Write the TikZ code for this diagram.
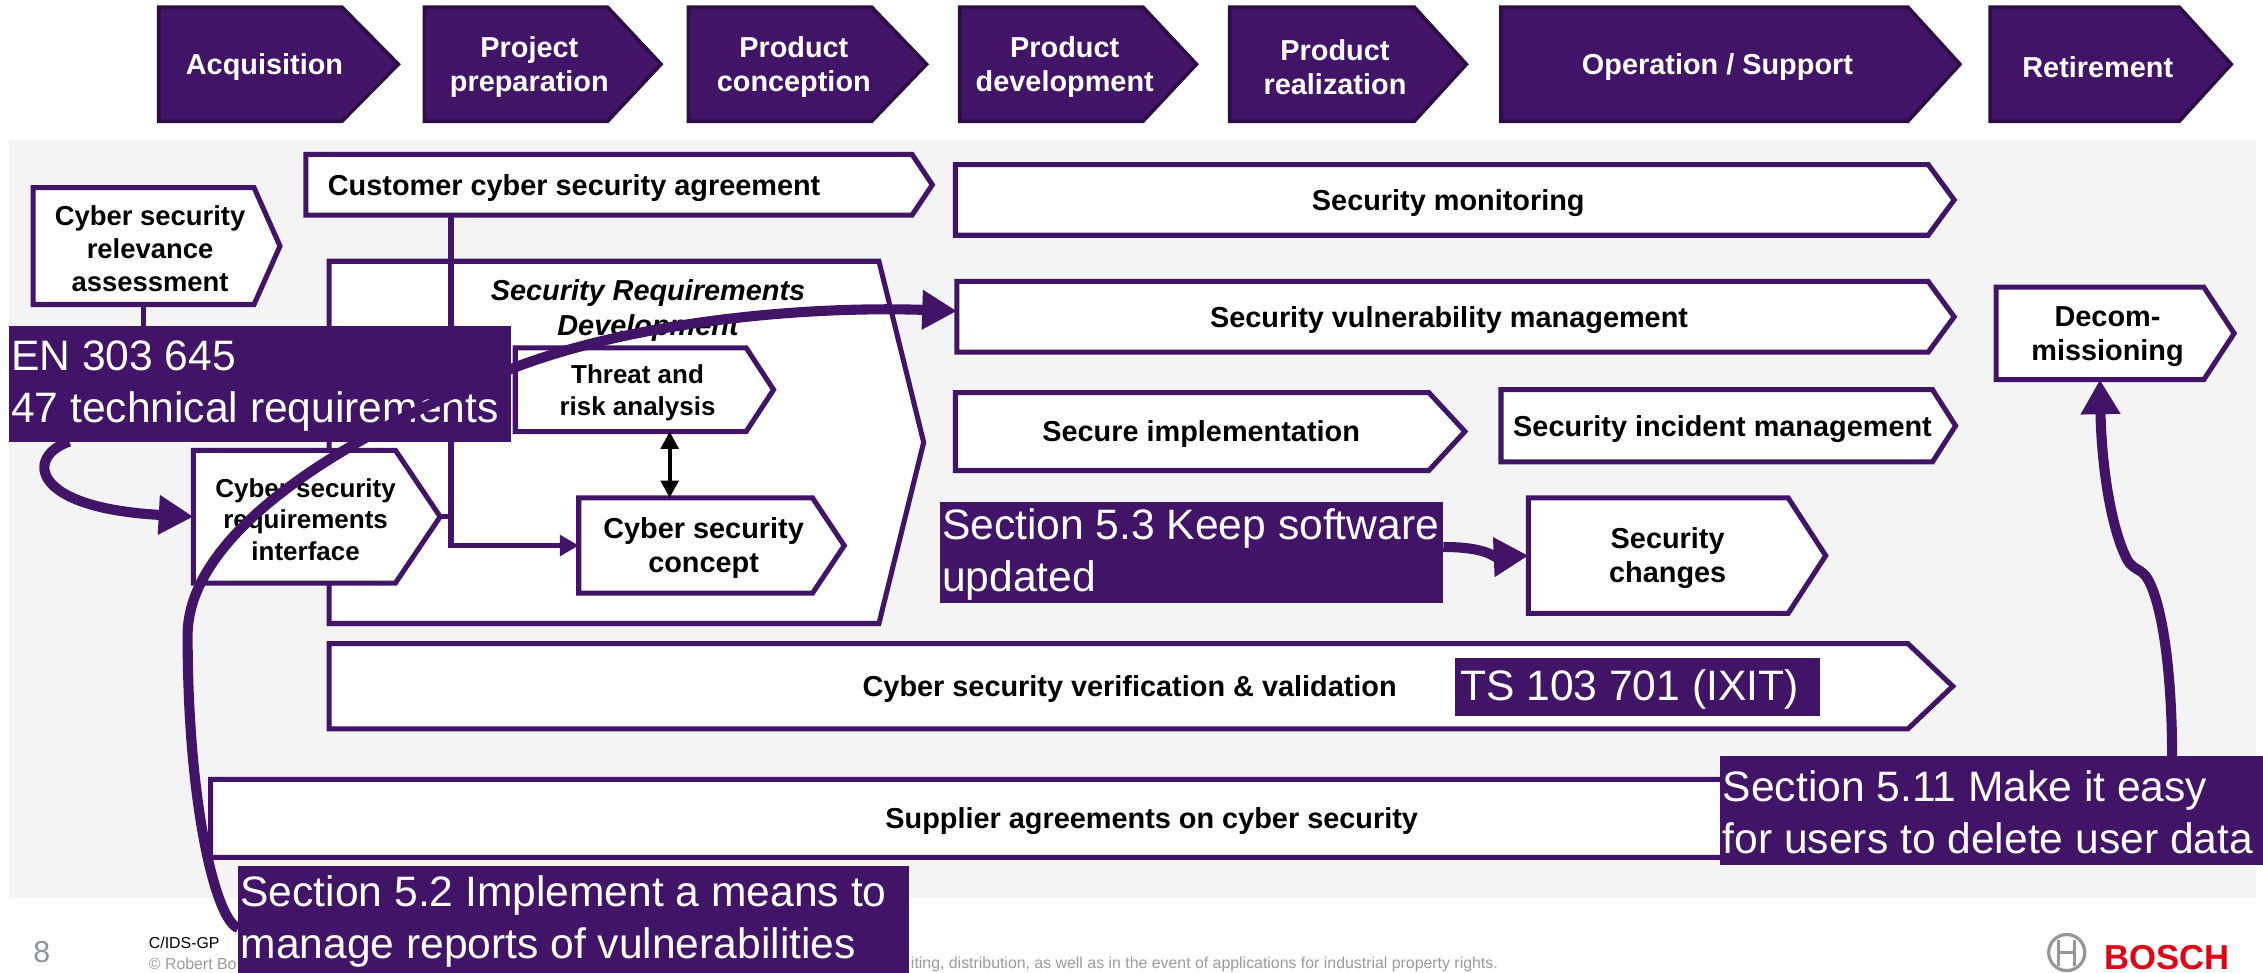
\documentclass[tikz,border=0pt]{standalone}
\usepackage{fontspec}
\setmainfont{Liberation Sans}
\usetikzlibrary{arrows.meta,calc}
\definecolor{purp}{RGB}{66,20,104}
\definecolor{phaseline}{RGB}{44,13,70}
\definecolor{panel}{RGB}{244,244,244}
\definecolor{boschred}{RGB}{226,0,21}
\definecolor{footgray}{RGB}{155,155,155}
\definecolor{pagenum}{RGB}{140,148,156}
\definecolor{logogray}{RGB}{150,150,150}

% #1 text options, #2 name, #3 left, #4 top, #5 body right, #6 tip x, #7 bottom, #8 shape style, #9 text
\newcommand\chev[9][]{%
  \path[#8] (#3,#4) -- (#5,#4) -- (#6,{(#4+#7)/2}) -- (#5,#7) -- (#3,#7) -- cycle;
  \node[inner sep=0pt, outer sep=0pt, minimum width={(#5-#3)*1pt}, minimum height={(#7-#4)*1pt}] (#2) at ({(#3+#5)/2},{(#4+#7)/2}) {};
  \node[align=center, inner sep=0pt, yshift=-2pt, #1] (#2-t) at ([xshift={(#6-#5)/4*1pt}]#2.center) {#9};
}
% #1 name, #2 left, #3 top, #4 right, #5 bottom, #6 text
\newcommand\callout[6]{%
  \node[calloutbox, anchor=north west, minimum width={(#4-#2)*1pt}, minimum height={(#5-#3)*1pt}] (#1) at (#2,#3) {};
  \node[callouttext, anchor=west] (#1-t) at ([xshift=1.5pt, yshift=-1.5pt]#1.west) {#6};
}

\begin{document}
\begin{tikzpicture}[x=1pt,y=-1pt,
  phase/.style={fill=purp, draw=phaseline, line width=2.5pt},
  wbox/.style={fill=white, draw=purp, line width=3.5pt},
  phasetext/.style={text=white, font=\fontsize{20}{24}\selectfont\bfseries},
  boxtext/.style={text=black, font=\fontsize{20}{23.5}\selectfont\bfseries},
  reltext/.style={text=black, font=\fontsize{19}{23}\selectfont\bfseries},
  smalltext/.style={text=black, font=\fontsize{18}{22}\selectfont\bfseries},
  srdtext/.style={text=black, font=\fontsize{20}{24}\selectfont\bfseries\itshape},
  calloutbox/.style={fill=purp, draw=none, inner sep=0pt, outer sep=0pt},
  callouttext/.style={text=white, inner sep=0pt, align=left, font=\fontsize{29.5}{36}\selectfont},
  bigarrow/.style={draw=purp, line width=7pt, -{Triangle[length=24pt,width=26pt]}},
  conn/.style={draw=purp, line width=3.5pt},
  dbl/.style={draw=black, line width=3pt, {Triangle[length=12pt,width=12pt]}-{Triangle[length=12pt,width=12pt]}}
]
\useasboundingbox (0,0) rectangle (1568,673.5);
\fill[white] (0,0) rectangle (1568,673.5);

% phases
\chev[phasetext]{acq}{110}{5}{237}{276}{84}{phase}{Acquisition}
\chev[phasetext]{prep}{294}{5}{421}{458}{84}{phase}{Project\\preparation}
\chev[phasetext]{pcon}{477}{5}{604}{642}{84}{phase}{Product\\conception}
\chev[phasetext]{pdev}{665}{5}{792}{829}{84}{phase}{Product\\development}
\chev[phasetext]{preal}{852}{5}{980}{1016}{84}{phase}{Product\\realization}
\chev[phasetext]{oper}{1040}{5}{1322}{1358}{84}{phase}{Operation / Support}
\chev[phasetext]{ret}{1379}{5}{1510}{1546}{84}{phase}{Retirement}

% panel
\fill[panel] (6,97) rectangle (1563,622);

\coordinate (cx) at (312.5,0);
\coordinate (relend) at (99.5,262);

% left side boxes
\chev[reltext]{rel}{23}{130}{176}{194}{211}{wbox}{Cyber security\\relevance\\assessment}
\draw[conn] (rel.south) -- (relend);
\chev[boxtext, anchor=west, xshift=-198.5pt]{cust}{212}{107}{632}{646}{149}{wbox}{Customer cyber security agreement}
\chev[srdtext, xshift=22.75pt, yshift=93.5pt]{srd}{228}{181}{609}{640}{432}{wbox}{Security Requirements\\Development}
\chev[smalltext]{iface}{134}{312}{274}{305}{404}{wbox}{Cyber security\\requirements\\interface}
\coordinate (iftip) at ([xshift=31pt]iface.east);
\chev[boxtext]{csc}{401}{345}{563}{585}{411}{wbox}{Cyber security\\concept}
\draw[conn] (iftip) -- (iftip -| cx);
\draw[conn, -{Triangle[length=13pt,width=14pt]}] (cust.south -| cx) |- (csc.west);
\chev[smalltext]{threat}{357}{241}{517}{536}{299}{wbox}{Threat and\\risk analysis}
\draw[dbl] ([xshift=27pt]threat.south) -- ([xshift=-18pt]csc.north);

% right side boxes
\chev[boxtext]{mon}{662}{114}{1336}{1354}{163}{wbox}{Security monitoring}
\chev[boxtext]{vuln}{663}{195}{1336}{1354}{244}{wbox}{Security vulnerability management}
\chev[boxtext]{decom}{1383}{199}{1527}{1548}{263}{wbox}{Decom-\\missioning}
\chev[boxtext]{impl}{662}{272}{990}{1015}{326}{wbox}{Secure implementation}
\chev[boxtext]{inc}{1040}{270}{1339}{1355}{320}{wbox}{Security incident management}
\chev[boxtext]{chg}{1059}{345}{1239}{1265}{425}{wbox}{Security\\changes}
\chev[boxtext]{vv}{228}{446}{1322}{1353}{505}{wbox}{Cyber security verification \& validation}
\chev[boxtext]{sup}{146}{540}{1440}{1460}{594}{wbox}{Supplier agreements on cyber security}

% footer
\node[font=\fontsize{21}{21}\selectfont, text=pagenum, inner sep=0pt] (pnum) at (29,660) {8};
\node[font=\fontsize{11}{11}\selectfont, text=black, anchor=west, inner sep=0pt] (dept) at (103,653) {C/IDS-GP};
\node[font=\fontsize{11}{11}\selectfont, text=footgray, anchor=west, inner sep=0pt] (copya) at (103,668) {© Robert Bo};
\node[font=\fontsize{11}{11}\selectfont, text=footgray, anchor=west, inner sep=0pt] (copyb) at (631,668) {iting, distribution, as well as in the event of applications for industrial property rights.};

% logo
\draw[logogray, line width=2.2pt] (1432,660) circle[radius=12.5pt];
\draw[logogray, line width=2pt] (1426.5,651) -- (1426.5,669) (1437.5,651) -- (1437.5,669) (1426.5,660) -- (1437.5,660);
\node[font=\fontsize{24}{24}\selectfont\bfseries, text=boschred, anchor=base west, inner sep=0pt] (bosch) at (1458,671.5) {BOSCH};

% callouts
\callout{en}{6}{226}{354}{306}{EN 303 645\\47 technical requirements}
\callout{sfivethree}{651}{348}{1000}{418}{Section 5.3 Keep software\\updated}
\callout{ts}{1008}{456}{1261}{496}{\hspace*{2pt}TS 103 701 (IXIT)}
\callout{sfiveeleven}{1192}{524}{1568}{599}{Section 5.11 Make it easy\\for users to delete user data}
\callout{sfivetwo}{165}{600}{630}{674}{Section 5.2 Implement a means to\\manage reports of vulnerabilities}

% big arrows
\draw[bigarrow] ([xshift=42pt]en.south west) .. controls (18,316) and (20,352) .. (iface.west);
\draw[bigarrow] ([yshift=-6pt]sfivetwo.west) .. controls (150,638) and (130,560) .. (130,440)
   .. controls (130,390) and (185,325) .. (353,256)
   .. controls (440,222) and (560,212) .. ([yshift=4pt]vuln.west);
\draw[bigarrow] ([yshift=4pt]sfivethree.east) .. controls (1030,379) and (1035,386) .. (chg.west);
\draw[bigarrow] ([xshift=125pt]sfiveeleven.north) .. controls (1505,470) and (1499,420) .. (1488,401)
   .. controls (1484,394) and (1478,395) .. (1474,388)
   .. controls (1462,365) and (1456,320) .. (decom.south);
\end{tikzpicture}
\end{document}
